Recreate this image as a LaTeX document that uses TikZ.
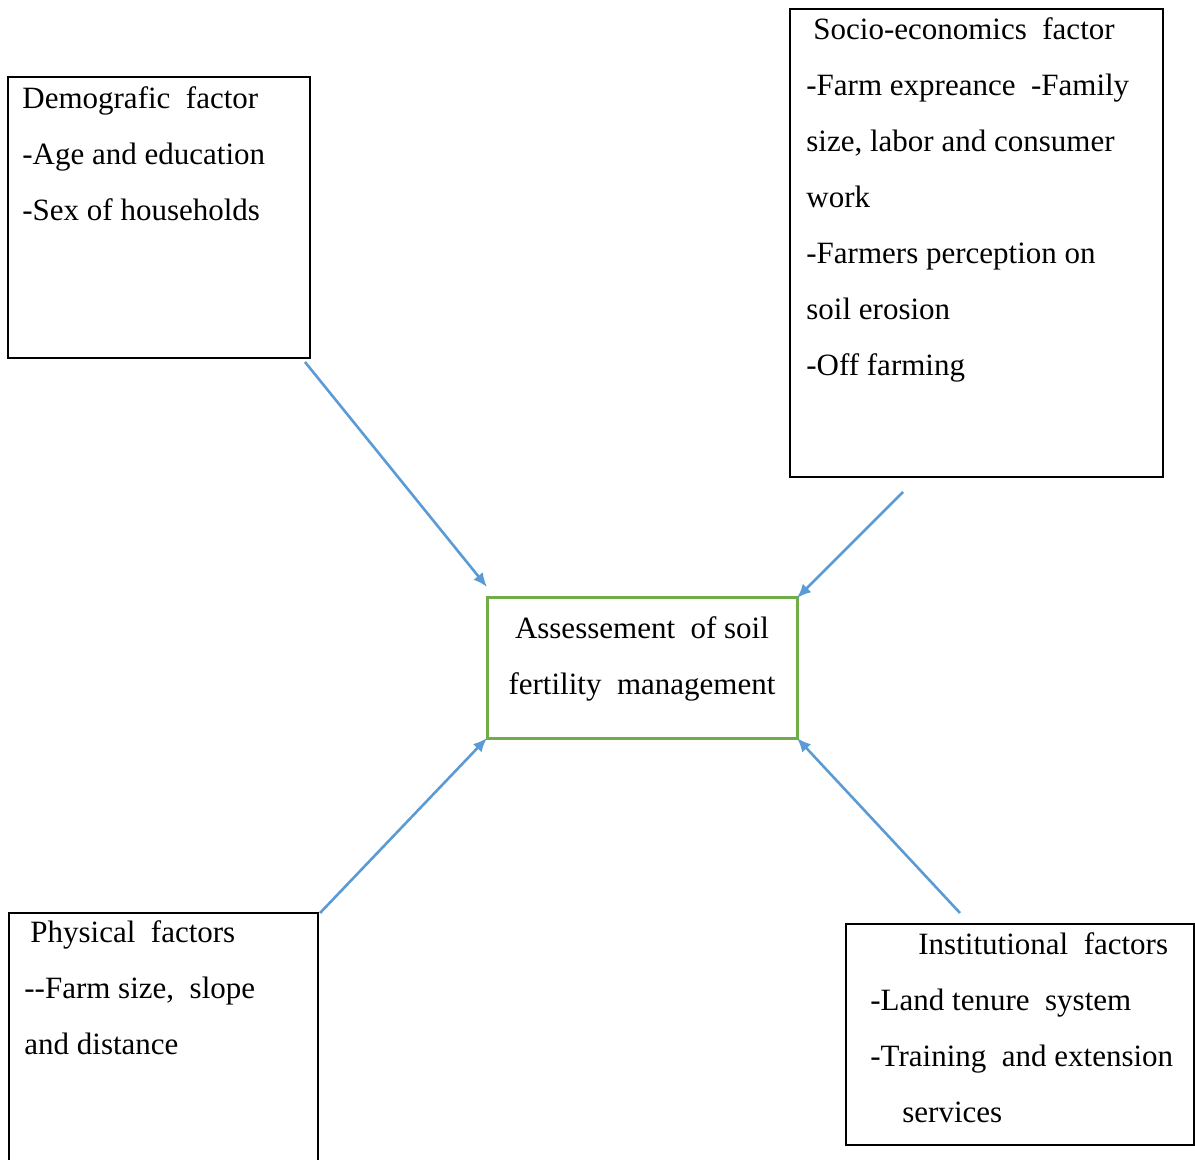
\documentclass[tikz,border=0pt]{standalone}
\usepackage{fontspec}
\setmainfont{Liberation Serif}
\usetikzlibrary{positioning,arrows.meta,calc}
\definecolor{linkblue}{HTML}{5B9BD5}
\definecolor{boxgreen}{HTML}{70AD47}

\begin{document}
\begin{tikzpicture}[
x=0.5pt, y=-0.5pt,
font=\fontsize{15.5}{28}\selectfont,
box/.style={draw, line width=1.2pt, inner sep=0pt, outer sep=0pt},
txt/.style={anchor=north west, align=left, inner sep=0pt},
arrow/.style={-{Latex[length=7pt, width=6pt]}, draw=linkblue, line width=1.3pt}
]
\useasboundingbox (0,0) rectangle (1195,1160);
% boxes
\node[box, minimum width=151pt, minimum height=140.5pt] (demo) at (159,217.5) {};
\node[box, minimum width=186.5pt, minimum height=234pt] (socio) at (976.5,243) {};
\node[box, draw=boxgreen, line width=1.5pt, minimum width=155pt, minimum height=70pt] (assess) at (642,668) {};
\node[box, minimum width=154.5pt, minimum height=128.5pt] (phys) at (163.5,1041.5) {};
\node[box, minimum width=174pt, minimum height=110.5pt] (inst) at (1020,1034.5) {};
% texts
\node[txt] (demotext) at (22,86) {Demografic\ \ factor\\-Age and education\\-Sex of households};
\node[txt] (sociotext) at (806,17) {\hspace{3.5pt}Socio-economics\ \ factor\\-Farm expreance\ \ -Family\\size, labor and consumer\\work\\-Farmers perception on\\soil erosion\\-Off farming};
\node[align=center, inner sep=0pt] (assesstext) at (642,659) {Assessement\ \ of soil\\fertility\ \ management};
\node[txt] (phystext) at (24,920) {\hspace{3pt}Physical\ \ factors\\{-}{-}Farm size,\ \ slope\\and distance};
\node[txt] (insttext) at (870,932) {\hspace{24pt}Institutional\ \ factors\\-Land tenure\ \ system\\-Training\ \ and extension\\\hspace{16pt}services};
% links
\coordinate (demoend) at (305,362);
\coordinate (socioend) at (903,492);
\coordinate (physend) at (320,913);
\coordinate (instend) at (960,913);
\coordinate (demotip) at ($(assess.north west)+(0,-11)$);
\draw[arrow] (demoend)--(demotip);
\draw[arrow] (socioend)--(assess.north east);
\draw[arrow] (physend)--(assess.south west);
\draw[arrow] (instend)--(assess.south east);
\end{tikzpicture}
\end{document}
